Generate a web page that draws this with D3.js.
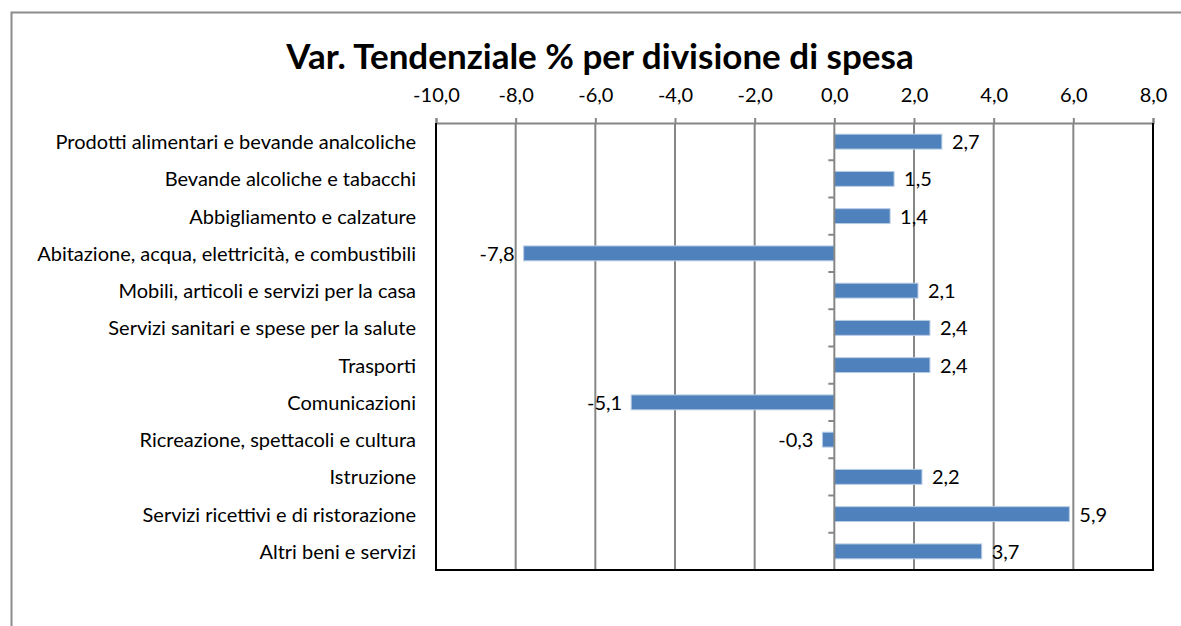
<!DOCTYPE html>
<html>
<head>
<meta charset="utf-8">
<script src="https://cdn.jsdelivr.net/npm/d3@7"></script>
<style>
  body { margin: 0; background: #fff; }
  text { font-family: Lato, "Open Sans", sans-serif; fill: #000; }
</style>
</head>
<body>
<div id="chart"></div>
<script>
// Data
const categories = [
    "Prodotti alimentari e bevande analcoliche",
    "Bevande alcoliche e tabacchi",
    "Abbigliamento e calzature",
    "Abitazione, acqua, elettricità, e combustibili",
    "Mobili, articoli e servizi per la casa",
    "Servizi sanitari e spese per la salute",
    "Trasporti",
    "Comunicazioni",
    "Ricreazione, spettacoli e cultura",
    "Istruzione",
    "Servizi ricettivi e di ristorazione",
    "Altri beni e servizi"
];
const values = [2.7, 1.5, 1.4, -7.8, 2.1, 2.4, 2.4, -5.1, -0.3, 2.2, 5.9, 3.7];
const xTicks = [-10, -8, -6, -4, -2, 0, 2, 4, 6, 8];
const title = "Var. Tendenziale % per divisione di spesa";

const W = 1181, H = 626;
const margin = { top: 123, right: 28, bottom: 56, left: 436 };
const width = W - margin.left - margin.right;
const height = H - margin.top - margin.bottom;

const it = d3.formatLocale({ decimal: ",", thousands: ".", grouping: [3], currency: ["", "€"], minus: "-" });
const fmt = it.format(".1f");

const svg = d3.select("#chart")
    .append("svg")
    .attr("width", W)
    .attr("height", H);

// outer chart frame (only top and left visible)
svg.append("rect")
    .attr("x", 11.5).attr("y", 12.5)
    .attr("width", W + 20).attr("height", H + 20)
    .attr("fill", "none")
    .attr("stroke", "#8c8c8c")
    .attr("stroke-width", 2);

svg.append("text")
    .attr("x", 600)
    .attr("y", 69)
    .attr("text-anchor", "middle")
    .style("font-size", "35px")
    .style("font-weight", "bold")
    .text(title);

const g = svg.append("g")
    .attr("transform", `translate(${margin.left},${margin.top})`);

const x = d3.scaleLinear()
    .domain([-10, 8])
    .range([0, width]);

const y = d3.scaleBand()
    .domain(categories)
    .range([0, height])
    .paddingInner(0.6)
    .paddingOuter(0.3);

// gridlines + top axis
const xAxis = g.append("g")
    .call(d3.axisTop(x).tickValues(xTicks).tickSize(5).tickFormat(fmt).tickPadding(16));
xAxis.select(".domain").attr("stroke", "#868686").attr("stroke-width", 2);
xAxis.selectAll(".tick line").attr("stroke", "#868686").attr("stroke-width", 2);
xAxis.selectAll(".tick text").style("font-size", "20px").attr("fill", "#000");

g.append("g")
    .selectAll("line")
    .data(xTicks.filter(d => d !== -10 && d !== 8 && d !== 0))
    .enter()
    .append("line")
    .attr("x1", d => x(d)).attr("x2", d => x(d))
    .attr("y1", 0).attr("y2", height)
    .attr("stroke", "#868686")
    .attr("stroke-width", 2);

// bars
g.selectAll(".bar")
    .data(values)
    .enter()
    .append("rect")
    .attr("class", "bar")
    .attr("x", d => x(Math.min(0, d)))
    .attr("y", (d, i) => y(categories[i]))
    .attr("width", d => Math.abs(x(d) - x(0)))
    .attr("height", y.bandwidth())
    .attr("fill", "#4f81bd")
    .attr("stroke", "#b9cde5")
    .attr("stroke-width", 1);

// vertical axis at zero with minor ticks between categories
g.append("line")
    .attr("x1", x(0)).attr("x2", x(0))
    .attr("y1", 0).attr("y2", height)
    .attr("stroke", "#868686")
    .attr("stroke-width", 2);

const step = y.step();
g.append("g")
    .selectAll("line")
    .data(d3.range(1, categories.length + 1))
    .enter()
    .append("line")
    .attr("x1", x(0) - 6).attr("x2", x(0))
    .attr("y1", i => i * step).attr("y2", i => i * step)
    .attr("stroke", "#868686")
    .attr("stroke-width", 2);

// plot border (left, right, bottom black)
g.append("path")
    .attr("d", `M0,0V${height}H${width}V0`)
    .attr("fill", "none")
    .attr("stroke", "#000")
    .attr("stroke-width", 2);

// category labels
g.selectAll(".cat")
    .data(categories)
    .enter()
    .append("text")
    .attr("x", -20)
    .attr("y", d => y(d) + y.bandwidth() / 2)
    .attr("dy", "0.38em")
    .attr("text-anchor", "end")
    .style("font-size", "20px")
    .text(d => d);

// value labels
g.selectAll(".val")
    .data(values)
    .enter()
    .append("text")
    .attr("x", d => d >= 0 ? x(d) + 10 : x(d) - 9)
    .attr("y", (d, i) => y(categories[i]) + y.bandwidth() / 2)
    .attr("dy", "0.38em")
    .attr("text-anchor", d => d >= 0 ? "start" : "end")
    .style("font-size", "20px")
    .text(d => fmt(d));
</script>
</body>
</html>
